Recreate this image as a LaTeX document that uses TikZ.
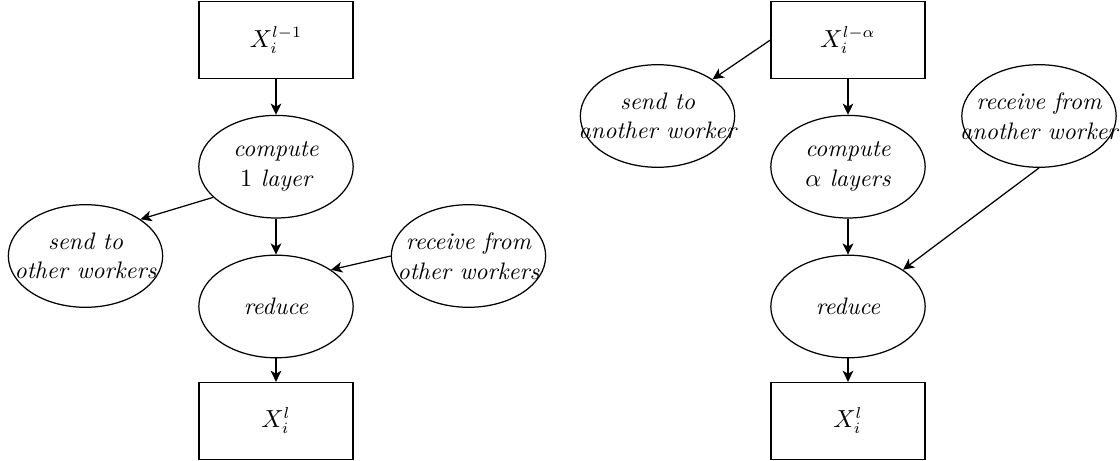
\documentclass[tikz,border=0pt]{standalone}
\usetikzlibrary{shapes.geometric,arrows.meta}
\tikzset{
  every path/.style={line width=0.55pt},
  boxnode/.style={draw, rectangle, minimum width=68.4pt, minimum height=34.2pt, inner sep=0pt,
    font=\fontsize{10.6}{13}\selectfont},
  ellnode/.style={draw, ellipse, minimum width=68.6pt, minimum height=45.6pt, inner sep=0pt,
    align=center, font=\itshape\fontsize{10.6}{13.2}\selectfont},
  conn/.style={-{Stealth[length=5pt,width=4.8pt,inset=1.4pt]}}
}
\newcommand{\cl}[1]{\makebox[0pt]{#1}}
\begin{document}
\begin{tikzpicture}[x=0.4444pt,y=-0.4444pt]
\useasboundingbox (0,0) rectangle (1120,461);
% left panel
\node[boxnode] (ta) at (276,40) {$X_i^{l-1}$};
\node[ellnode] (ca) at (276,166.7) {\cl{compute}\\\cl{$1$ layer}};
\node[ellnode] (ra) at (276,306.5) {\cl{reduce}};
\node[boxnode] (ba) at (276,421) {$X_i^{l}$};
\node[ellnode] (sa) at (85.5,256) {\cl{send to}\\\cl{other workers}};
\node[ellnode] (qa) at (468.5,256) {\cl{receive from}\\\cl{other workers}};
\draw[conn] (ta) -- (ca);
\draw[conn] (ca) -- (ra);
\draw[conn] (ra) -- (ba);
\draw[conn] (ca.206) -- (sa.north east);
\draw[conn] (qa.west) -- (ra.north east);
% right panel
\node[boxnode] (tb) at (848,40) {$X_i^{l-\alpha}$};
\node[ellnode] (cb) at (848,166.7) {\cl{compute}\\\cl{$\alpha$ layers}};
\node[ellnode] (rb) at (848,306.5) {\cl{reduce}};
\node[boxnode] (bb) at (848,421) {$X_i^{l}$};
\node[ellnode] (sb) at (657.5,116) {\cl{send to}\\\cl{another worker}};
\node[ellnode] (qb) at (1039,116) {\cl{receive from}\\\cl{another worker}};
\draw[conn] (tb) -- (cb);
\draw[conn] (cb) -- (rb);
\draw[conn] (rb) -- (bb);
\draw[conn] (tb.west) -- (sb.north east);
\draw[conn] (qb.south) -- (rb.north east);
\end{tikzpicture}
\end{document}
